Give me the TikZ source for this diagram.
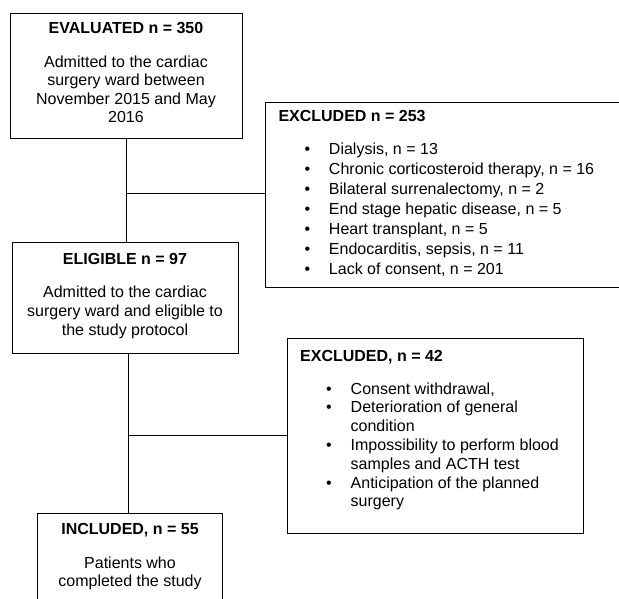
\documentclass[tikz,border=0pt]{standalone}
\usepackage{fontspec}
\setmainfont{Liberation Sans}
\usetikzlibrary{positioning}

% bullet row and hanging continuation line
\newcommand{\bul}{\hspace*{26pt}\makebox[24.5pt][l]{\textbullet}}
\newcommand{\cont}{\hspace*{50.5pt}}

\tikzset{
  flowbox/.style={draw, line width=1.2pt, inner sep=0pt, anchor=north west},
  midtext/.style={inner sep=0pt, anchor=north, align=center},
  listtext/.style={inner sep=0pt, anchor=north west, align=left},
  link/.style={line width=0.9pt}
}

\begin{document}
\begin{tikzpicture}[x=1pt,y=-1pt]
  \useasboundingbox (0,0) rectangle (619,599);
  \clip (0,0) rectangle (619,599);

  % boxes
  \node[flowbox, minimum width=232pt, minimum height=125pt] (eval) at (10,13) {};
  \node[flowbox, minimum width=370pt, minimum height=185pt] (excl1) at (265,102) {};
  \node[flowbox, minimum width=226pt, minimum height=111pt] (elig) at (12,242) {};
  \node[flowbox, minimum width=296pt, minimum height=195pt] (excl2) at (287,338) {};
  \node[flowbox, minimum width=185pt, minimum height=120pt] (incl) at (37,513) {};

  % texts
  \node[midtext, font=\fontsize{16}{18.5}\selectfont] (evaltxt) at (126,21.7)
    {\textbf{EVALUATED n = 350}\\[15.7pt]
     Admitted to the cardiac\\surgery ward between\\November 2015 and May\\2016};
  \node[listtext, font=\fontsize{16}{20}\selectfont] (excl1txt) at (278.3,110.1)
    {\textbf{EXCLUDED n = 253}\\[13.3pt]
     \bul Dialysis, n = 13\\
     \bul Chronic corticosteroid therapy, n = 16\\
     \bul Bilateral surrenalectomy, n = 2\\
     \bul End stage hepatic disease, n = 5\\
     \bul Heart transplant, n = 5\\
     \bul Endocarditis, sepsis, n = 11\\
     \bul Lack of consent, n = 201};
  \node[midtext, font=\fontsize{16}{19}\selectfont] (eligtxt) at (125,252.7)
    {\textbf{ELIGIBLE n = 97}\\[14pt]
     Admitted to the cardiac\\surgery ward and eligible to\\the study protocol};
  \node[listtext, font=\fontsize{16}{18.8}\selectfont] (excl2txt) at (300,350.1)
    {\textbf{EXCLUDED, n = 42}\\[13.8pt]
     \bul Consent withdrawal,\\
     \bul Deterioration of general\\
     \cont condition\\
     \bul Impossibility to perform blood\\
     \cont samples and ACTH test\\
     \bul Anticipation of the planned\\
     \cont surgery};
  \node[midtext, font=\fontsize{16}{18.4}\selectfont] (incltxt) at (130,523.4)
    {\textbf{INCLUDED, n = 55}\\[14.9pt]
     Patients who\\completed the study};

  % connectors
  \coordinate (j1) at (126,193);
  \coordinate (j2) at (128,435);
  \draw[link] (j1 |- eval.south) -- (j1 |- elig.north);
  \draw[link] (j1) -- (j1 -| excl1.west);
  \draw[link] (j2 |- elig.south) -- (j2 |- incl.north);
  \draw[link] (j2) -- (j2 -| excl2.west);
\end{tikzpicture}
\end{document}
